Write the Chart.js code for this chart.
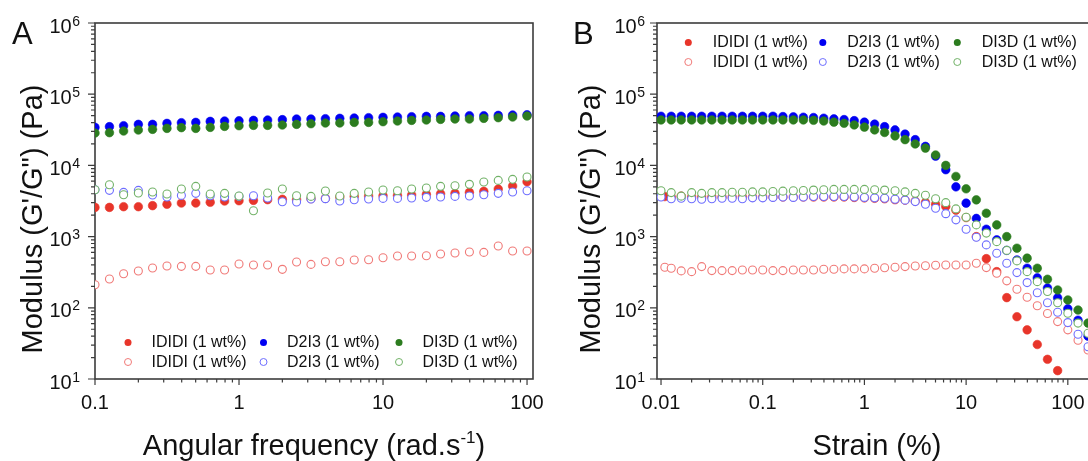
<!DOCTYPE html>
<html>
<head>
<meta charset="utf-8">
<script src="https://cdn.jsdelivr.net/npm/chart.js@4/dist/chart.umd.min.js"></script>
<style>
    html, body { margin: 0; padding: 0; background: #fff; overflow: hidden; width: 1088px; height: 461px; }
    canvas { position: absolute; top: 0; }
    #chartA { left: 0; }
    #chartB { left: 545px; }
</style>
</head>
<body>
<canvas id="chartA" width="545" height="461"></canvas>
<canvas id="chartB" width="565" height="461"></canvas>
<script>
// ---- data: panel A (frequency sweep) ----
const freqA = [0.1, 0.126, 0.158, 0.2, 0.251, 0.316, 0.398, 0.501, 0.631, 0.794, 1, 1.26, 1.58, 2, 2.51, 3.16,
    3.98, 5.01, 6.31, 7.94, 10, 12.6, 15.8, 20, 25.1, 31.6, 39.8, 50.1, 63.1, 79.4, 100];
const ididiStorageA = [2570, 2570, 2630, 2630, 2720, 2840, 2960, 2960, 3030, 3160, 3190, 3230, 3300, 3340, 3300, 3410,
    3440, 3600, 3670, 3710, 3750, 3790, 3840, 3920, 4000, 4050, 4180, 4320, 4660, 5130, 5900];
const d2i3StorageA = [34200, 35000, 36100, 37700, 37700, 38900, 39800, 40200, 41500, 42000, 42400, 42900, 43400, 43900, 44800, 44800,
    45300, 45800, 46300, 46800, 47300, 47800, 48300, 48800, 48800, 49400, 49900, 49900, 50400, 51000, 51500];
const di3dStorageA = [28500, 28800, 30400, 31400, 32100, 33100, 33900, 33100, 34200, 35300, 36100, 36500, 36500, 36900, 37700, 38500,
    39400, 39400, 40200, 40200, 41100, 42000, 42900, 43400, 44300, 44800, 44800, 45800, 46800, 47800, 49400];
const ididiLossA = [211, 254, 301, 328, 362, 386, 382, 382, 339, 339, 412, 399, 399, 347, 439, 407,
    444, 444, 469, 474, 505, 534, 534, 539, 569, 588, 607, 600, 737, 627, 627];
const d2i3LossA = [4560, 4460, 4180, 4460, 3840, 3600, 3790, 4050, 3750, 3600, 3670, 3750, 3480, 3090, 3060, 3370,
    3410, 3160, 3300, 3370, 3440, 3440, 3480, 3560, 3600, 3670, 3710, 3880, 4050, 4230, 4410];
const di3dLossA = [4560, 5360, 3880, 4090, 4230, 3970, 4660, 5080, 3970, 4050, 3710, 2310, 4090, 4660, 3750, 3670,
    4370, 3710, 4050, 4230, 4510, 4410, 4660, 4810, 5080, 5190, 5420, 5840, 6160, 6370, 6870];

// ---- data: panel B (strain sweep) ----
const strainB = [0.01, 0.0126, 0.0158, 0.02, 0.0251, 0.0316, 0.0398, 0.0501, 0.0631, 0.0794, 0.1, 0.126, 0.158, 0.2, 0.251,
    0.316, 0.398, 0.501, 0.631, 0.794, 1, 1.26, 1.58, 2, 2.51, 3.16, 3.98, 5.01, 6.31, 7.94, 10, 12.6, 15.8, 20, 25.1,
    31.6, 39.8, 50.1, 63.1, 79.4, 100, 126, 158];
const strainIdidi = [0.0109, 0.0126, 0.0158, 0.02, 0.0251, 0.0316, 0.0398, 0.0501, 0.0631, 0.0794, 0.1, 0.126, 0.158, 0.2, 0.251,
    0.316, 0.398, 0.501, 0.631, 0.794, 1, 1.26, 1.58, 2, 2.51, 3.16, 3.98, 5.01, 6.31, 7.94, 10, 12.6, 15.8, 20, 25.1,
    31.6, 39.8, 50.1, 63.1, 79.4, 100, 126, 158];
const ididiStorageB = [3650, 3600, 3700, 3600, 3600, 3600, 3600, 3600, 3600, 3600, 3600, 3600, 3600, 3600, 3600,
    3600, 3600, 3600, 3600, 3550, 3500, 3450, 3400, 3300, 3250, 3150, 3000, 2850, 2650, 2350, 1850, 1000, 490, 322, 139,
    75, 49, 30.5, 18.9, 13.1];
const d2i3StorageB = [49000, 49000, 49000, 49000, 49000, 49000, 49000, 49000, 49000, 49000, 49000, 49000, 48500, 48000, 47500,
    47000, 46000, 45000, 44000, 42500, 40500, 38000, 35000, 31500, 27500, 23000, 18500, 13500, 8700, 5000, 2950, 1800, 1270, 900, 640,
    470, 360, 263, 190, 138, 97, 67, 40];
const di3dStorageB = [43500, 43500, 43500, 43500, 43500, 43500, 43500, 43500, 43500, 43500, 43500, 43500, 43500, 43500, 43500,
    43000, 42000, 40500, 39000, 37000, 34500, 31500, 29000, 26000, 23000, 20000, 17500, 14000, 10000, 7000, 4690, 3280, 2130, 1460, 1000,
    687, 498, 360, 252, 178, 129, 93, 61];
const ididiLossB = [372, 360, 330, 322, 379, 333, 333, 333, 340, 340, 340, 333, 333, 340, 340,
    340, 348, 348, 352, 352, 352, 360, 365, 372, 379, 387, 390, 395, 400, 400, 400, 423, 367, 306, 239,
    182, 141, 107, 83, 64, 49, 35, 25.6];
const d2i3LossB = [3600, 3400, 3450, 3400, 3350, 3400, 3450, 3450, 3400, 3500, 3500, 3550, 3600, 3550, 3600,
    3650, 3650, 3650, 3650, 3600, 3550, 3500, 3450, 3350, 3250, 3100, 2850, 2500, 2100, 1720, 1270, 980, 765, 585, 423,
    312, 226, 163, 118, 86.5, 62, 42.5, 28.4];
const di3dLossB = [4400, 4150, 3700, 4150, 4050, 4150, 4150, 4200, 4200, 4250, 4250, 4300, 4350, 4400, 4450,
    4500, 4550, 4600, 4600, 4600, 4600, 4550, 4500, 4400, 4250, 4050, 3800, 3400, 3000, 2450, 1870, 1460, 1120, 850, 640,
    456, 322, 233, 169, 118, 84, 61, 44];

// ---- axis ticks ----
const xTicksA = [0.1, 1, 10, 100];
const xTicksB = [0.01, 0.1, 1, 10, 100];
const yTickExponents = [1, 2, 3, 4, 5, 6];

const FONT = "'Liberation Sans', Arial, sans-serif";

const colors = {
    ididi: '#e8352a', d2i3: '#0000f2', di3d: '#2c7c1f',
    ididiOpen: '#f07a78', d2i3Open: '#6e6eff', di3dOpen: '#72b268'
};

function points(xs, ys) {
    return ys.map((v, i) => ({ x: xs[i], y: v }));
}

function series(label, xs, ys, color, filled, order) {
    return {
        label,
        data: points(xs, ys),
        order,
        filled,
        showLine: false,
        pointRadius: filled ? 4.3 : 4,
        pointBorderWidth: filled ? 0.6 : 1.1,
        pointBorderColor: color,
        pointBackgroundColor: filled ? color : '#ffffff',
        borderColor: color,
        backgroundColor: filled ? color : '#ffffff'
    };
}

function minorTicks(min, max) {
    const out = [];
    for (let e = Math.floor(Math.log10(min)); e <= Math.ceil(Math.log10(max)); e++) {
        for (let m = 1; m <= 9; m++) {
            const v = m * Math.pow(10, e);
            if (v >= min * 0.999 && v <= max * 1.001) out.push({ value: v, major: m === 1 });
        }
    }
    return out;
}

const framePlugin = {
    id: 'frame',
    beforeDatasetsDraw(chart, args, opts) {
        const { ctx, chartArea: a, scales: { x, y } } = chart;
        ctx.save();
        ctx.strokeStyle = '#3c3c3c';
        ctx.lineWidth = 1.6;
        ctx.strokeRect(a.left, a.top, a.right - a.left, a.bottom - a.top);

        ctx.lineWidth = 1.2;
        ctx.beginPath();
        minorTicks(x.min, x.max).forEach(t => {
            const px = x.getPixelForValue(t.value);
            ctx.moveTo(px, a.bottom);
            ctx.lineTo(px, a.bottom + (t.major ? 6 : 3.5));
        });
        minorTicks(y.min, y.max).forEach(t => {
            const py = y.getPixelForValue(t.value);
            ctx.moveTo(a.left, py);
            ctx.lineTo(a.left - (t.major ? 7 : 4), py);
        });
        ctx.stroke();

        // tick labels
        ctx.fillStyle = '#111';
        ctx.font = `20px ${FONT}`;
        ctx.textAlign = 'center';
        ctx.textBaseline = 'alphabetic';
        opts.xTicks.forEach(v => {
            ctx.fillText(String(v), x.getPixelForValue(v), a.bottom + 30);
        });
        ctx.textAlign = 'right';
        yTickExponents.forEach(e => {
            const py = y.getPixelForValue(Math.pow(10, e));
            const right = a.left - opts.yLabelGap;
            ctx.font = `14px ${FONT}`;
            const supW = ctx.measureText(String(e)).width;
            ctx.fillText(String(e), right, py + 2.5);
            ctx.font = `20px ${FONT}`;
            ctx.fillText('10', right - supW - 0.5, py + 9.5);
        });

        // x title (with optional superscript)
        const cx = (a.left + a.right) / 2;
        const parts = opts.xTitle;
        const measure = p => { ctx.font = `${p.sup ? 17 : 29}px ${FONT}`; return ctx.measureText(p.text).width; };
        const total = parts.reduce((s, p) => s + measure(p), 0);
        let tx = cx - total / 2;
        ctx.textAlign = 'left';
        parts.forEach(p => {
            const w = measure(p);
            ctx.fillText(p.text, tx, p.sup ? 443 : 455);
            tx += w;
        });

        // y title
        ctx.save();
        ctx.translate(a.left - opts.yTitleGap, (a.top + a.bottom) / 2 + 18);
        ctx.rotate(-Math.PI / 2);
        ctx.textAlign = 'center';
        ctx.font = `29px ${FONT}`;
        ctx.fillText('Modulus (G\'/G") (Pa)', 0, 0);
        ctx.restore();

        // panel letter
        ctx.font = `31px ${FONT}`;
        ctx.textAlign = 'left';
        ctx.fillText(opts.letter, opts.letterX, 43.5);
        ctx.restore();
    },
    afterDatasetsDraw(chart, args, opts) {
        const { ctx, chartArea: a } = chart;
        const lg = opts.legend;
        ctx.save();
        ctx.font = `16px ${FONT}`;
        ctx.textBaseline = 'middle';
        ctx.textAlign = 'left';
        chart.data.datasets.forEach((ds, k) => {
            const col = k % 3, row = Math.floor(k / 3);
            const mx = a.left + lg.x0 + col * lg.colStep;
            const my = (lg.anchor === 'top' ? a.top : a.bottom) + lg.rows[row];
            ctx.beginPath();
            ctx.arc(mx, my, 3.5, 0, Math.PI * 2);
            if (ds.filled) {
                ctx.fillStyle = ds.pointBackgroundColor;
                ctx.fill();
            } else {
                ctx.fillStyle = '#fff';
                ctx.fill();
                ctx.lineWidth = 1;
                ctx.strokeStyle = ds.pointBorderColor;
                ctx.stroke();
            }
            ctx.fillStyle = '#111';
            ctx.fillText(ds.label, mx + lg.textGap, my + 0.5);
        });
        ctx.restore();
    }
};

function buildChart(id, sets, xMin, xMax, pad, frameOpts) {
    return new Chart(document.getElementById(id), {
        type: 'scatter',
        data: { datasets: sets },
        options: {
            responsive: false,
            animation: false,
            events: [],
            layout: { padding: pad },
            scales: {
                x: { type: 'logarithmic', min: xMin, max: xMax, display: false },
                y: { type: 'logarithmic', min: 10, max: 1e6, display: false }
            },
            plugins: {
                legend: { display: false },
                tooltip: { enabled: false },
                frame: frameOpts
            }
        },
        plugins: [framePlugin]
    });
}

buildChart('chartA', [
    series('IDIDI (1 wt%)', freqA, ididiStorageA, colors.ididi, true, 6),
    series('D2I3 (1 wt%)', freqA, d2i3StorageA, colors.d2i3, true, 5),
    series('DI3D (1 wt%)', freqA, di3dStorageA, colors.di3d, true, 4),
    series('IDIDI (1 wt%)', freqA, ididiLossA, colors.ididiOpen, false, 3),
    series('D2I3 (1 wt%)', freqA, d2i3LossA, colors.d2i3Open, false, 2),
    series('DI3D (1 wt%)', freqA, di3dLossA, colors.di3dOpen, false, 1)
], 0.1, 110, { left: 95, right: 12, top: 23, bottom: 82 }, {
    xTicks: xTicksA,
    xTitle: [{ text: 'Angular frequency (rad.s' }, { text: '-1', sup: true }, { text: ')' }],
    yLabelGap: 15, yTitleGap: 53, letter: 'A', letterX: 12,
    legend: { anchor: 'bottom', x0: 33, colStep: 135.5, textGap: 23.5, rows: [-36.6, -17] }
});

buildChart('chartB', [
    series('IDIDI (1 wt%)', strainIdidi, ididiStorageB, colors.ididi, true, 6),
    series('D2I3 (1 wt%)', strainB, d2i3StorageB, colors.d2i3, true, 5),
    series('DI3D (1 wt%)', strainB, di3dStorageB, colors.di3d, true, 4),
    series('IDIDI (1 wt%)', strainIdidi, ididiLossB, colors.ididiOpen, false, 3),
    series('D2I3 (1 wt%)', strainB, d2i3LossB, colors.d2i3Open, false, 2),
    series('DI3D (1 wt%)', strainB, di3dLossB, colors.di3dOpen, false, 1)
], 0.00913, 193.6, { left: 112, right: 13, top: 23, bottom: 82 }, {
    xTicks: xTicksB,
    xTitle: [{ text: 'Strain (%)' }],
    yLabelGap: 12, yTitleGap: 57, letter: 'B', letterX: 28,
    legend: { anchor: 'top', x0: 31.3, colStep: 134.5, textGap: 24.5, rows: [19.4, 39] }
});
</script>
</body>
</html>
